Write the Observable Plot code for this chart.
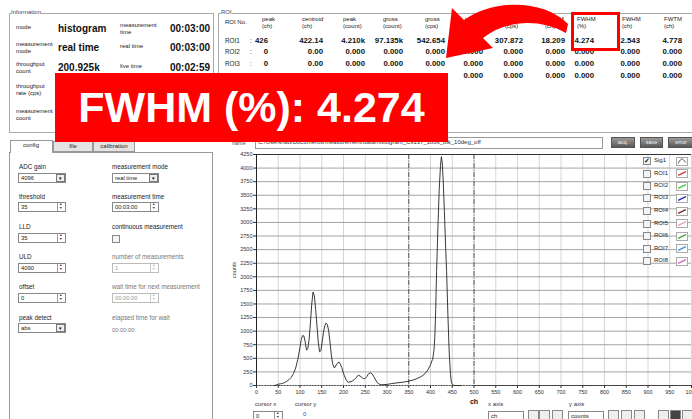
<!DOCTYPE html>
<html><head><meta charset="utf-8">
<script src="https://cdn.jsdelivr.net/npm/d3@7"></script>
<script src="https://cdn.jsdelivr.net/npm/@observablehq/plot@0.6"></script>
<style>
body{margin:0;background:#fff;font-family:"Liberation Sans",Arial,sans-serif;}
#root{position:relative;width:692px;height:419px;overflow:hidden;background:#fff;}
#root div{box-sizing:border-box;}
</style></head>
<body><div id="root"></div>
<script>
// ---------- data ----------
const channel = [40,45,50,55,60,65,70,75,80,85,90,95,100,103,106,109,112,115,118,121,124,127,130,133,136,139,142,145,148,151,154,157,160,163,166,169,172,175,178,181,184,187,190,193,196,199,202,205,208,211,215,220,225,230,234,238,242,246,250,254,258,262,266,270,274,278,282,286,290,300,310,320,330,340,350,360,370,380,390,395,400,403,405,408,410,412,414,417,420,423,425,427,429,432,435,437,440,443,446,448,450,453,456,470];
const counts = [0,5,25,30,40,55,80,110,150,220,320,480,700,850,920,910,800,650,680,850,1150,1500,1720,1650,1400,1100,800,620,640,800,980,1100,1150,1120,1000,800,560,400,330,340,390,420,430,390,330,250,180,120,80,60,65,80,110,150,190,175,150,125,130,170,220,235,210,160,100,50,25,15,15,20,35,45,55,65,80,100,130,170,240,300,380,450,480,650,900,1400,2100,2900,3600,4050,4210,4100,3800,3200,2500,2100,1300,600,200,60,20,5,0,0];
const xTicks = [0,50,100,150,200,250,300,350,400,450,500,550,600,650,700,750,800,850,900,950,1000];
const yTicks = [0,250,500,750,1000,1250,1500,1750,2000,2250,2500,2750,3000,3250,3500,3750,4000,4250];
const roiEdges = [350,500];

const infoLabels = ["mode","measurement\nmode","throughput\ncount","throughput\nrate (cps)","measurement\ncount"];
const infoValues = ["histogram","real time","200.925k"];
const timeLabels = ["measurement\ntime","real time","live time"];
const timeValues = ["00:03:00","00:03:00","00:02:59"];

const roiHeaders = ["peak\n(ch)","centroid\n(ch)","peak\n(count)","gross\n(count)","gross\n(cps)","total\n(count)","net\n(cps)","FWHM\n(ch)","FWHM\n(%)","FWHM\n(ch)","FWTM\n(ch)"];
const roiNames = ["ROI1","ROI2","ROI3","ROI4"];
const roiRow1 = ["426","422.14","4.210k","97.135k","542.654","55.417k","307.872","18.209","4.274","2.543","4.778"];
const roiRowZero = ["0","0.00","0.000","0.000","0.000","0.000","0.000","0.000","0.000","0.000","0.000"];

const cfgLeftLabels = ["ADC gain","threshold","LLD","ULD","offset","peak detect"];
const cfgLeftValues = ["4096","35","35","4090","0","abs"];
const cfgRightLabels = ["measurement mode","measurement time","continuous measurement","number of measurements","wait time for next measurement","elapsed time for wait"];
const cfgRightValues = ["real time","00:03:00","","1","00:00:00","00:00:00"];

const legendNames = ["Sig1","ROI1","ROI2","ROI3","ROI4","ROI5","ROI6","ROI7","ROI8"];
const legendColors = ["#222","#d03a3a","#3ad03a","#2a2ab8","#7a2a2a","#f0a0a8","#4aa03a","#3a8ee0","#e060c0"];

const bannerText = "FWHM (%): 4.274";

// ---------- helpers ----------
const root = document.getElementById("root");
function el(css, html){const e=document.createElement("div");e.style.cssText="position:absolute;"+css;if(html!=null)e.innerHTML=html;root.appendChild(e);return e;}
function txt(x,y,s,size,o={}){
  const lh=o.lh||Math.round(size*1.2*10)/10; const lines=s.split("\n"); const h=lh*lines.length;
  let css=`top:${y-h/2}px;font-size:${size}px;line-height:${lh}px;color:${o.color||"#222"};font-weight:${o.bold?"bold":"normal"};white-space:pre;`;
  if(o.align==="right") css+=`right:${692-x}px;text-align:right;`;
  else if(o.align==="center") css+=`left:${x}px;transform:translateX(-50%);text-align:center;`;
  else css+=`left:${x}px;`;
  return el(css, lines.join("<br>"));
}
function box(x,y,w,h,css=""){return el(`left:${x}px;top:${y}px;width:${w}px;height:${h}px;${css}`);}
function spinner(x,y,h,dis){
  box(x,y+1,7,h-2,`border-left:1px solid ${dis?"#ccc":"#999"};`);
  el(`left:${x+2}px;top:${y+1}px;font-size:3.5px;line-height:3.5px;color:${dis?"#bbb":"#335"}`,"▲<br>▼");
}
function dropArrow(x,y,h){
  box(x,y+1,9,h-2,"border:1px solid #777;background:#eee;");
  el(`left:${x+2}px;top:${y+2.5}px;font-size:4.5px;line-height:5px;color:#111`,"▼");
}

// ---------- Information panel ----------
box(9,13,205,120,"border:1px solid #aaa;");
txt(11,13,"Information",6,{color:"#446"}).style.background="#fff";
const infoY=[27,48,68,90,115], valY=[29,48,68];
infoLabels.forEach((s,i)=>txt(16,infoY[i],s,6,{lh:7}));
infoValues.forEach((s,i)=>txt(58,valY[i],s,10,{bold:true,color:"#111"}));
const tlY=[29,46,66];
timeLabels.forEach((s,i)=>txt(120,tlY[i],s,6,{lh:7}));
timeValues.forEach((s,i)=>txt(210,valY[i],s,10,{bold:true,color:"#111",align:"right"}));

// ---------- ROI panel ----------
box(218,13,480,120,"border:1px solid #aaa;");
txt(221,13,"ROI",6,{color:"#446"}).style.background="#fff";
txt(225,23,"ROI No.",6);
const colEnd=[268,323,365,403,445,483,523,565,594,640,682];
const headX=[262,302,343,383,425,465,505,545,577,622,664];
roiHeaders.forEach((s,i)=>txt(headX[i],23,s,6,{lh:7}));
const rowY=[41,52,64,76];
roiNames.forEach((n,r)=>{
  txt(225,rowY[r],n,6.3); txt(250,rowY[r],":",6.3);
  const vals = r===0?roiRow1:roiRowZero;
  vals.forEach((v,i)=>txt(colEnd[i],rowY[r],v,7.8,{bold:true,color:"#111",align:"right"}));
});

// ---------- tabs and config panel ----------
box(9,152,204,270,"border:1px solid #999;background:#fff;");
box(53,141,40,11,"border:1px solid #999;background:#e4e4e4;");
box(93,141,42,11,"border:1px solid #999;background:#e4e4e4;");
box(10,140,43,13,"border:1px solid #999;border-bottom:none;background:#fff;");
txt(31,146,"config",6,{align:"center"}); txt(73,147,"file",6,{align:"center"}); txt(114,147,"calibration",6,{align:"center"});
const cfgLY=[167,197,227,257,287,318], cfgBY=[173,202,233,263,293,323];
cfgLeftLabels.forEach((s,i)=>{
  txt(19,cfgLY[i],s,6.3);
  box(18,cfgBY[i],48,10,"border:1px solid #888;background:#fff;");
  txt(21,cfgBY[i]+5,cfgLeftValues[i],5.8);
  if(i===0||i===5) dropArrow(56,cfgBY[i],10); else spinner(57,cfgBY[i],10,false);
});
cfgRightLabels.forEach((s,i)=>{
  const dis = i>=3;
  txt(112,cfgLY[i],s,6.3,{color:dis?"#777":"#222"});
  if(i===2){box(112,cfgBY[i]+2,8,8,"border:1px solid #888;background:#f4f4f4;");return;}
  if(i===5){txt(112,cfgBY[i]+7,cfgRightValues[i],5.8,{color:"#777"});return;}
  box(112,cfgBY[i],47,10,`border:1px solid ${dis?"#bbb":"#888"};background:#fff;`);
  txt(115,cfgBY[i]+5,cfgRightValues[i],5.8,{color:dis?"#999":"#222"});
  if(i===0) dropArrow(149,cfgBY[i],10); else spinner(150,cfgBY[i],10,dis);
});

// ---------- chart header ----------
txt(232,143,"name",5.5,{color:"#555"});
box(255,137,348,12,"border:1px solid #999;background:#fff;");
txt(258,143,"C:/Users/lab/Documents/measurement/data/histogram_Cs137_180s_blk_10deg_off",6,{color:"#333"});
[["acq.",611,24],["save",640,23],["error",668,26]].forEach(([s,x,w])=>{
  box(x,137,w,11,"border:1px solid #555;background:linear-gradient(#9a9a9a,#5a5a5a);");
  txt(x+w/2,142.5,s,5.5,{align:"center",color:"#f4f4f4"});
});

// ---------- chart ----------
const data = channel.map((c,i)=>({ch:c, n:counts[i]}));
const chart = Plot.plot({
  width: 468, height: 262,
  marginLeft: 31, marginRight: 2, marginTop: 6, marginBottom: 25,
  x: {domain:[0,1000]},
  y: {domain:[0,4250]},
  style: {fontFamily:"Liberation Sans, Arial, sans-serif", fontSize:"5.5px", color:"#333", background:"transparent", overflow:"visible"},
  marks: [
    Plot.gridX(xTicks, {stroke:"#d6d6d6", strokeOpacity:1}),
    Plot.gridY(yTicks, {stroke:"#a4a4a4", strokeOpacity:1}),
    Plot.ruleX(roiEdges, {stroke:"#444", strokeWidth:0.9, strokeDasharray:"5,1.5,1,1.5"}),
    Plot.ruleY([0], {x1:0, x2:roiEdges[1], stroke:"#444", strokeDasharray:"1.4,1.4"}),
    Plot.ruleY([0], {x1:roiEdges[1], x2:1000, stroke:"#444"}),
    Plot.ruleY([4250], {stroke:"#333"}),
    Plot.line(data, {x:"ch", y:"n", stroke:"#222", strokeWidth:0.9}),
    Plot.ruleX([0], {stroke:"#222"}),
    Plot.axisX(xTicks, {tickSize:3, tickPadding:1.5, tickFormat:"d", label:"ch", labelAnchor:"center", labelArrow:"none", labelOffset:18}),
    Plot.axisY(yTicks, {tickSize:3, tickPadding:1, tickFormat:"d", label:"counts", labelAnchor:"center", labelArrow:"none", labelOffset:24})
  ]
});
const cdiv = el("left:225px;top:148px;width:468px;height:262px;");
cdiv.appendChild(chart);
chart.querySelectorAll('[aria-label="x-axis label"] text').forEach(t=>{t.style.fontWeight="bold";t.style.fontSize="7px";t.style.fill="#111";t.textContent="ch";});
chart.querySelectorAll('[aria-label="y-axis label"] text').forEach(t=>{t.textContent="counts";});

// ---------- legend ----------
const legY=[161,173.5,186,198,211,223.5,236,248.5,261];
legendNames.forEach((n,i)=>{
  const y=legY[i];
  box(643,y-4,8,8,"border:1px solid #888;background:#f4f4f4;");
  if(i===0) txt(644,y,"✓",7,{bold:true,color:"#111"});
  txt(654,y,n,6,{color:"#222"});
  const ic = box(676,y-4.5,12,9,"border:1px solid #aaa;background:#fff;");
  const path = i===0 ? "M1 7 C3 3,5 1,6 1 C7 1,9 4,11 6" : "M1 7 L11 2";
  ic.innerHTML = `<svg width="10" height="7" viewBox="0 0 12 9" style="position:absolute;left:0;top:0"><path d="${path}" fill="none" stroke="${legendColors[i]}" stroke-width="${i===0?1:1.8}"/></svg>`;
});

// ---------- bottom controls ----------
txt(255,405,"cursor x",6,{color:"#334"}); txt(295,405,"cursor y",6,{color:"#334"});
box(253,411,30,10,"border:1px solid #888;background:#fff;"); txt(256,416,"0",5.8); spinner(274,411,10,false);
txt(303,414,"0",5.8,{color:"#44a"});
txt(488,405,"x axis",6,{color:"#334"}); txt(569,405,"y axis",6,{color:"#334"});
box(488,411,36,10,"border:1px solid #888;background:#fff;"); txt(491,416.5,"ch",6);
box(568,411,36,10,"border:1px solid #888;background:#fff;"); txt(571,416.5,"counts",6);
[528,539,552,608,621,634,658,670,682].forEach((x,i)=>box(x,410,11,10,`border:1px solid #888;background:${i===7?"#444":"#eee"};`));

// ---------- annotations ----------
const ov = el("left:0;top:0;width:692px;height:419px;");
ov.innerHTML = `<svg width="692" height="419" style="position:absolute;left:0;top:0">
<path d="M568 24 C545 0,495 -2,464 20 L452 8 L446 58 L493 48 L483 38 C505 20,540 18,566 33 Z" fill="#f00"/>
<rect x="572.5" y="13.5" width="46" height="36" fill="none" stroke="#f00" stroke-width="3"/></svg>`;
const banner = box(55,73,393,69,"background:#f00;");
banner.innerHTML = `<div style="position:absolute;left:0;top:0;width:393px;height:69px;display:flex;align-items:center;justify-content:center;color:#fff;font-weight:bold;font-size:43px;font-family:'Liberation Sans',Arial,sans-serif;">${bannerText}</div>`;
</script></body></html>
